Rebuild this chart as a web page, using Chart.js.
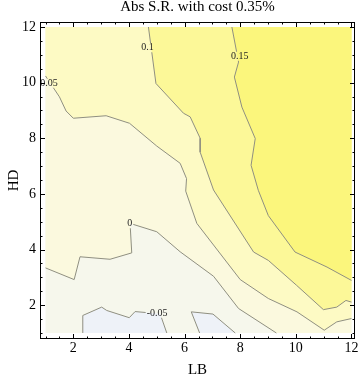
<!DOCTYPE html>
<html>
<head>
<meta charset="utf-8">
<script src="https://cdn.jsdelivr.net/npm/chart.js@4.4.0/dist/chart.umd.min.js"></script>
<style>
html, body { margin: 0; padding: 0; background: #fff; }
#wrap { width: 360px; height: 380px; }
</style>
</head>
<body>
<div id="wrap"><canvas id="chart"></canvas></div>
<script>
// contour levels and shading (lowest band first)
const levels = [-0.05, 0, 0.05, 0.1, 0.15];
const bandColors = ['#eef2f8', '#f6f7ec', '#fbf9de', '#fdfac4', '#fcf898', '#fbf67c'];
const tickLabels = [2, 4, 6, 8, 10, 12];

// contour lines, [LB, HD]
const lineM005a = [[2.34, 1], [2.34, 1.63], [3.02, 1.93], [3.2, 1.81], [4.01, 1.55], [4.22, 1.77], [5.12, 1.69], [5.36, 1]];
const lineM005b = [[6.54, 1], [6.24, 1.76], [7.02, 1.68], [7.82, 1]];
const line0 = [[1, 3.34], [2.03, 2.92], [2.24, 3.74], [3.32, 3.65], [4.1, 3.88], [4.04, 4.94], [5, 4.64], [5.84, 3.92],
  [7.04, 3.04], [7.94, 1.88], [9.3, 1]];
const line005 = [[1, 10.24], [1.5, 9.49], [1.74, 8.98], [2, 8.72], [3.18, 8.81], [4.02, 8.54], [5, 7.72], [5.84, 7.1],
  [6.07, 6.55], [6.04, 6.1], [6.44, 4.94], [8, 2.92], [9.01, 2.24], [10.04, 1.76], [11.02, 1.1], [11.47, 1.4], [12, 1.52]];
const line010 = [[4.7, 12], [4.97, 9.97], [5.96, 8.9], [6.2, 8.77], [6.56, 8], [6.56, 7.5], [7.04, 6.14], [8.48, 3.91],
  [9.01, 3.61], [10.03, 2.71], [10.99, 1.84], [11.47, 1.93], [11.8, 2.17], [12, 2.11]];
const line015 = [[7.7, 12], [7.94, 10.74], [7.79, 10.2], [8.06, 9.12], [8.54, 7.99], [8.39, 7.03], [8.65, 6.13],
  [9.01, 5.22], [9.97, 3.91], [11.12, 3.37], [12, 2.89]];

// contour labels
const labelText = ['0.1', '0.15', '0.05', '0', '-0.05'];
const labelLB = [4.67, 7.98, 1.13, 4.03, 5.01];
const labelHD = [11.25, 10.95, 9.98, 4.93, 1.71];

const LO = 1, HI = 12;
const lineColor = '#8f8f80';

function pts(arr) {
    return arr.map((p) => { return { x: p[0], y: p[1] } });
}

// superlevel regions closed along the plot edge
let fills = [
    { data: pts([[LO, LO], [HI, LO], [HI, HI], [LO, HI]]), color: bandColors[1] },
    { data: pts(line0.concat([[HI, LO], [HI, HI], [LO, HI]])), color: bandColors[2] },
    { data: pts(line005.concat([[HI, HI], [LO, HI]])), color: bandColors[3] },
    { data: pts(line010.concat([[HI, HI]])), color: bandColors[4] },
    { data: pts(line015.concat([[HI, HI]])), color: bandColors[5] },
    { data: pts(lineM005a), color: bandColors[0] },
    { data: pts(lineM005b), color: bandColors[0] }
];

let datasets = [];
fills.forEach((f, i) => {
    datasets.push({
        data: f.data,
        fill: 'shape',
        backgroundColor: f.color,
        borderColor: 'transparent',
        borderWidth: 0,
        pointRadius: 0,
        tension: 0,
        order: 100 - i
    });
});
[lineM005a, lineM005b, line0, line005, line010, line015].forEach((l) => {
    datasets.push({
        data: pts(l),
        fill: false,
        borderColor: lineColor,
        borderWidth: 1,
        pointRadius: 0,
        tension: 0,
        contour: true,
        order: 1
    });
});

const labelFont = '10px "Liberation Serif", "Times New Roman", serif';

function labelBoxes(chart) {
    let ctx = chart.ctx;
    ctx.save();
    ctx.font = labelFont;
    let boxes = labelText.map((t, i) => {
        let w = ctx.measureText(t).width;
        let px = chart.scales.x.getPixelForValue(labelLB[i]);
        let py = chart.scales.y.getPixelForValue(labelHD[i]);
        return { t: t, x: px, y: py, w: w };
    });
    ctx.restore();
    return boxes;
}

// frame with inward ticks, gaps in contour lines, contour labels
const framePlugin = {
    id: 'frame',
    beforeDatasetDraw(chart, args) {
        let ds = chart.data.datasets[args.index];
        if (!ds.contour) return;
        let ctx = chart.ctx;
        ctx.save();
        ctx.beginPath();
        ctx.rect(0, 0, chart.width, chart.height);
        labelBoxes(chart).forEach((b) => {
            ctx.rect(b.x - b.w / 2 - 1, b.y - 4.5, b.w + 2, 9);
        });
        ctx.clip('evenodd');
    },
    afterDatasetDraw(chart, args) {
        let ds = chart.data.datasets[args.index];
        if (ds.contour) chart.ctx.restore();
    },
    afterDatasetsDraw(chart) {
        let ctx = chart.ctx;
        ctx.save();
        ctx.font = labelFont;
        ctx.fillStyle = '#222';
        ctx.textAlign = 'center';
        ctx.textBaseline = 'middle';
        labelBoxes(chart).forEach((b) => ctx.fillText(b.t, b.x, b.y));
        ctx.restore();
    },
    afterDraw(chart) {
        let ctx = chart.ctx;
        let a = chart.chartArea;
        let xs = chart.scales.x, ys = chart.scales.y;
        ctx.save();
        ctx.strokeStyle = '#000';
        ctx.lineWidth = 1;
        ctx.strokeRect(a.left + 0.5, a.top + 0.5, a.right - a.left - 1, a.bottom - a.top - 1);
        ctx.beginPath();
        for (let v = LO; v <= HI; v += 0.5) {
            let len = (v % 2 === 0) ? 5 : 2.5;
            let x = Math.round(xs.getPixelForValue(v)) + 0.5;
            ctx.moveTo(x, a.bottom); ctx.lineTo(x, a.bottom - len);
            ctx.moveTo(x, a.top); ctx.lineTo(x, a.top + len);
            let y = Math.round(ys.getPixelForValue(v)) + 0.5;
            ctx.moveTo(a.left, y); ctx.lineTo(a.left + len, y);
            ctx.moveTo(a.right, y); ctx.lineTo(a.right - len, y);
        }
        ctx.stroke();
        ctx.restore();
    }
};

Chart.defaults.font.family = '"Liberation Serif", "Times New Roman", serif';
Chart.defaults.color = '#000';

new Chart(document.getElementById('chart'), {
    type: 'line',
    data: { datasets: datasets },
    options: {
        animation: false,
        responsive: true,
        maintainAspectRatio: false,
        events: [],
        layout: { padding: { right: 5 } },
        plugins: {
            legend: { display: false },
            tooltip: { enabled: false },
            title: {
                display: true,
                text: 'Abs S.R. with cost 0.35%',
                fullSize: false,
                font: { size: 15, weight: 'normal', lineHeight: 1 },
                padding: { top: 0, bottom: 7 }
            }
        },
        scales: {
            x: {
                type: 'linear',
                min: 0.802,
                max: 12.126,
                grid: { display: false, drawTicks: false },
                border: { display: false },
                afterBuildTicks: (s) => { s.ticks = tickLabels.map((v) => { return { value: v } }); },
                afterFit: (s) => { s.height = 41; },
                ticks: { autoSkip: false, maxRotation: 0, padding: 1, font: { size: 14 } },
                title: { display: true, text: 'LB', font: { size: 15 }, padding: { top: 0, bottom: 1 } }
            },
            y: {
                type: 'linear',
                min: 0.784,
                max: 12.18,
                grid: { display: false, drawTicks: false },
                border: { display: false },
                afterBuildTicks: (s) => { s.ticks = tickLabels.map((v) => { return { value: v } }); },
                afterFit: (s) => { s.width = 40; },
                ticks: { autoSkip: false, padding: 4, font: { size: 14 } },
                title: { display: true, text: 'HD', font: { size: 15 }, padding: { top: 5, bottom: 0 } }
            }
        }
    },
    plugins: [framePlugin]
});
</script>
</body>
</html>
